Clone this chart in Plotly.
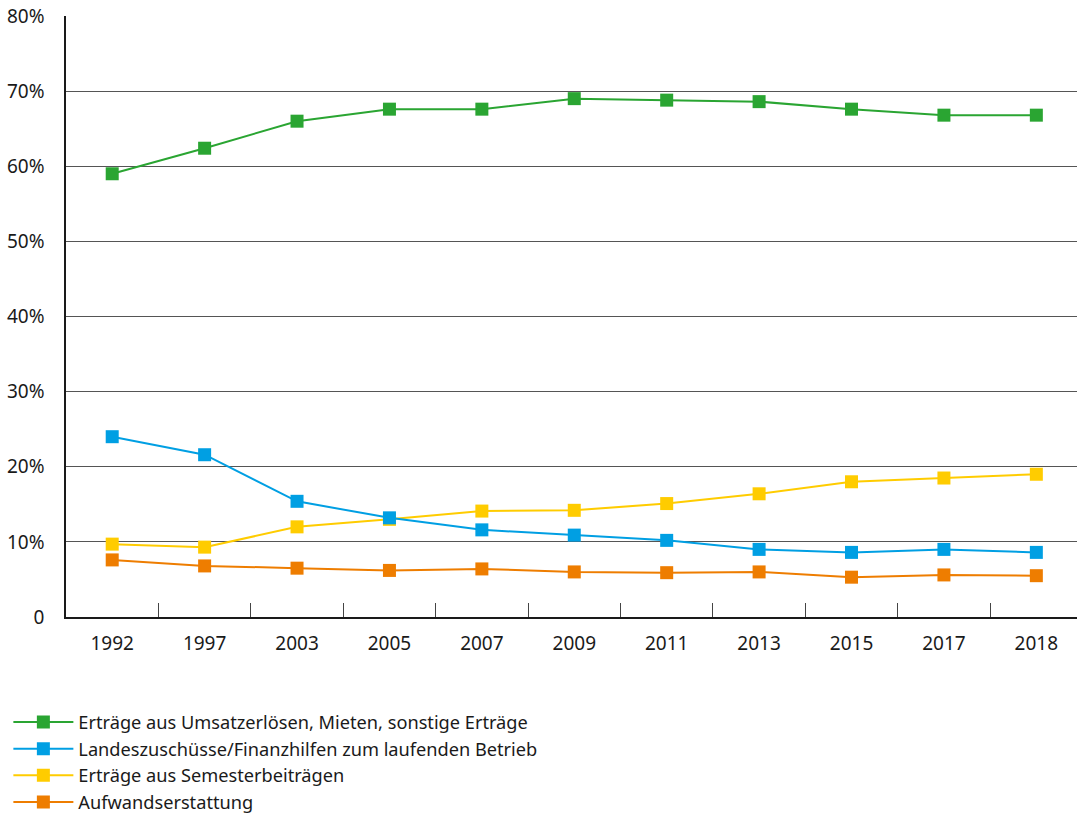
import plotly.graph_objects as go

years = ["1992", "1997", "2003", "2005", "2007", "2009", "2011", "2013", "2015", "2017", "2018"]
umsatz = [59.0, 62.4, 66.0, 67.6, 67.6, 69.0, 68.8, 68.6, 67.6, 66.8, 66.8]
landes = [24.0, 21.6, 15.4, 13.2, 11.6, 10.9, 10.2, 9.0, 8.6, 9.0, 8.6]
semester = [9.7, 9.3, 12.0, 13.0, 14.1, 14.2, 15.1, 16.4, 18.0, 18.5, 19.0]
aufwand = [7.6, 6.8, 6.5, 6.2, 6.4, 6.0, 5.9, 6.0, 5.3, 5.6, 5.5]

names = [
    "Erträge aus Umsatzerlösen, Mieten, sonstige Erträge",
    "Landeszuschüsse/Finanzhilfen zum laufenden Betrieb",
    "Erträge aus Semesterbeiträgen",
    "Aufwandserstattung",
]
colors = ["#2aa532", "#009fe3", "#ffcc00", "#ee7d00"]
series = [umsatz, landes, semester, aufwand]

tickvals = [0, 10, 20, 30, 40, 50, 60, 70, 80]
ticktext = ["0", "10%", "20%", "30%", "40%", "50%", "60%", "70%", "80%"]

fig = go.Figure()
draw_order = [0, 3, 2, 1]
for i in draw_order:
    fig.add_trace(go.Scatter(
        x=years, y=series[i], name=names[i], mode="lines+markers",
        line=dict(color=colors[i], width=2),
        marker=dict(symbol="square", size=13, color=colors[i]),
        legendrank=i + 1,
    ))

fig.update_layout(
    width=1077, height=813,
    margin=dict(l=66, r=0, t=16, b=196, autoexpand=False),
    paper_bgcolor="white", plot_bgcolor="white",
    font=dict(family="Noto Sans, Open Sans, sans-serif", size=19, color="#1a1a1a"),
    showlegend=True,
    legend=dict(
        xref="paper", yref="paper", x=-0.057, y=-0.1443,
        xanchor="left", yanchor="top",
        font=dict(size=18.2, color="#1a1a1a"), tracegroupgap=0,
        itemwidth=60, bgcolor="rgba(0,0,0,0)",
    ),
    xaxis=dict(
        type="category", range=[-0.5, 10.44],
        showline=True, linecolor="#1a1a1a", linewidth=1.5,
        showgrid=False, ticks="inside", tickson="boundaries",
        ticklen=14, tickcolor="#444", tickwidth=1.2,
        ticklabelstandoff=8, zeroline=False,
    ),
    yaxis=dict(
        range=[0, 80], tickvals=tickvals, ticktext=ticktext,
        showline=True, linecolor="#1a1a1a", linewidth=1.5,
        showgrid=True, gridcolor="#555", gridwidth=1,
        zeroline=False, ticks="", ticklabelstandoff=16,
    ),
)

fig.write_html("out.html")
